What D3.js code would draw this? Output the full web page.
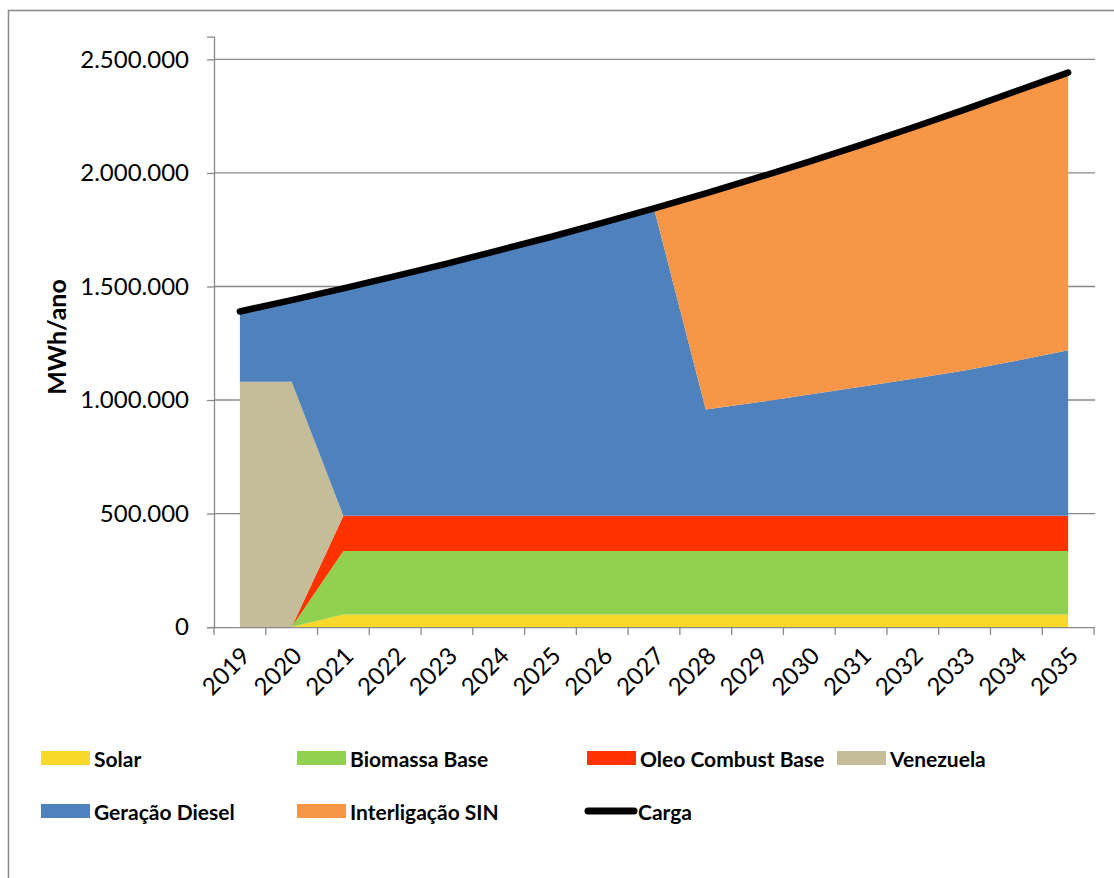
<!DOCTYPE html>
<html>
<head>
<meta charset="utf-8">
<script src="https://cdn.jsdelivr.net/npm/d3@7"></script>
<style>
  html, body { margin: 0; padding: 0; background: #fff; }
  svg { display: block; }
  text { font-family: Lato, "Open Sans", sans-serif; fill: #000; }
</style>
</head>
<body>
<svg id="chart" width="1114" height="878"></svg>
<script>
// ---- data ----
const years = ["2019","2020","2021","2022","2023","2024","2025","2026","2027","2028","2029","2030","2031","2032","2033","2034","2035"];
const solar      = [0, 0, 55000, 55000, 55000, 55000, 55000, 55000, 55000, 55000, 55000, 55000, 55000, 55000, 55000, 55000, 55000];
const biomassa   = [0, 0, 280000, 280000, 280000, 280000, 280000, 280000, 280000, 280000, 280000, 280000, 280000, 280000, 280000, 280000, 280000];
const oleo       = [0, 0, 155000, 155000, 155000, 155000, 155000, 155000, 155000, 155000, 155000, 155000, 155000, 155000, 155000, 155000, 155000];
const venezuela  = [1080000, 1080000, 0, 0, 0, 0, 0, 0, 0, 0, 0, 0, 0, 0, 0, 0, 0];
const diesel     = [310000, 360000, 1002000, 1056000, 1111000, 1169000, 1228000, 1290000, 1354000, 468000, 500000, 534000, 568000, 604000, 640000, 683000, 729000];
const sin        = [0, 0, 0, 0, 0, 0, 0, 0, 0, 952000, 989000, 1026000, 1066000, 1106000, 1149000, 1188000, 1223000];
const carga      = [1390000, 1440000, 1492000, 1546000, 1601000, 1659000, 1718000, 1780000, 1844000, 1910000, 1979000, 2050000, 2124000, 2200000, 2279000, 2361000, 2442000];
const yTicks     = [0, 500000, 1000000, 1500000, 2000000, 2500000];
const seriesNames  = ["Solar", "Biomassa Base", "Oleo Combust Base", "Venezuela", "Geração Diesel", "Interligação SIN"];
const seriesColors = ["#F8D92B", "#92D050", "#FF3300", "#C4BD97", "#4F81BD", "#F79646"];
const lineName = "Carga";

// ---- build table ----
const seriesArrays = [solar, biomassa, oleo, venezuela, diesel, sin];
const table = years.map((y, i) => {
  const row = { year: y };
  seriesNames.forEach((n, k) => row[n] = seriesArrays[k][i]);
  return row;
});

const svg = d3.select("#chart");
const grey = "#898989";

// chart border
svg.append("rect").attr("x", 8.5).attr("y", 10.5).attr("width", 1200).attr("height", 1000)
  .attr("fill", "none").attr("stroke", grey).attr("stroke-width", 1.5);

const x = d3.scalePoint().domain(years).range([214, 1094]).padding(0.5);
const y = d3.scaleLinear().domain([0, 2600000]).range([627.1, 36.7]);

const locale = d3.formatLocale({ decimal: ",", thousands: ".", grouping: [3], currency: ["R$", ""] });
const fmt = locale.format(",d");

// gridlines
svg.append("g").selectAll("line").data(yTicks.filter(d => d > 0)).join("line")
  .attr("x1", 214).attr("x2", 1095).attr("y1", d => y(d)).attr("y2", d => y(d))
  .attr("stroke", grey).attr("stroke-width", 1.3);

// stacked areas
const stack = d3.stack().keys(seriesNames);
const stacked = stack(table);
const area = d3.area()
  .x(d => x(d.data.year))
  .y0(d => y(d[0]))
  .y1(d => y(d[1]));
svg.append("g").selectAll("path").data(stacked).join("path")
  .attr("d", area)
  .attr("fill", (d, i) => seriesColors[i]);

// y axis
const yAxis = d3.axisLeft(y).tickValues(yTicks).tickFormat(fmt).tickSize(7).tickPadding(18);
const gy = svg.append("g").attr("transform", "translate(214,0)").call(yAxis);
gy.select(".domain").attr("stroke", grey).attr("stroke-width", 1.3);
gy.selectAll(".tick line").attr("stroke", grey).attr("stroke-width", 1.3);
gy.selectAll(".tick text").style("font-size", "24px").style("font-family", "Lato, sans-serif").attr("fill", "#000");

// x axis
const xAxis = d3.axisBottom(x).tickSize(0).tickFormat(d => d);
const gx = svg.append("g").attr("transform", "translate(0,627.1)").call(xAxis);
gx.select(".domain").attr("stroke", grey).attr("stroke-width", 1.3);
gx.selectAll(".tick text")
  .style("font-size", "24px").style("font-family", "Lato, sans-serif").attr("fill", "#000")
  .attr("text-anchor", "end")
  .attr("dy", null).attr("y", 0)
  .attr("transform", "translate(7,26) rotate(-45)")
  .attr("dominant-baseline", "middle");
// x tick marks between categories
const step = x.step();
const bounds = d3.range(years.length + 1).map(i => 214 + i * step);
svg.append("g").selectAll("line").data(bounds).join("line")
  .attr("x1", d => d).attr("x2", d => d).attr("y1", 627.1).attr("y2", 635)
  .attr("stroke", grey).attr("stroke-width", 1.3);

// carga line
const line = d3.line().x((d, i) => x(years[i])).y(d => y(d));
svg.append("path").datum(carga).attr("d", line)
  .attr("fill", "none").attr("stroke", "#000").attr("stroke-width", 6.5)
  .attr("stroke-linecap", "round").attr("stroke-linejoin", "round");

// y axis title
svg.append("text").attr("transform", "translate(66,337) rotate(-90)")
  .attr("text-anchor", "middle")
  .style("font-size", "25px").style("font-weight", "bold")
  .text("MWh/ano");

// legend
const legendPos = [[41, 758], [297, 758], [587, 758], [837, 758], [41, 811], [297, 811]];
const lg = svg.append("g");
seriesNames.forEach((n, i) => {
  const [lx, ly] = legendPos[i];
  lg.append("rect").attr("x", lx).attr("y", ly - 7).attr("width", 49).attr("height", 14).attr("fill", seriesColors[i]);
  lg.append("text").attr("x", lx + 53).attr("y", ly).attr("dominant-baseline", "central")
    .style("font-size", "21px").style("font-weight", "bold").text(n);
});
lg.append("line").attr("x1", 588).attr("x2", 634).attr("y1", 811).attr("y2", 811)
  .attr("stroke", "#000").attr("stroke-width", 7).attr("stroke-linecap", "round");
lg.append("text").attr("x", 638).attr("y", 811).attr("dominant-baseline", "central")
  .style("font-size", "21px").style("font-weight", "bold").text(lineName);
</script>
</body>
</html>
